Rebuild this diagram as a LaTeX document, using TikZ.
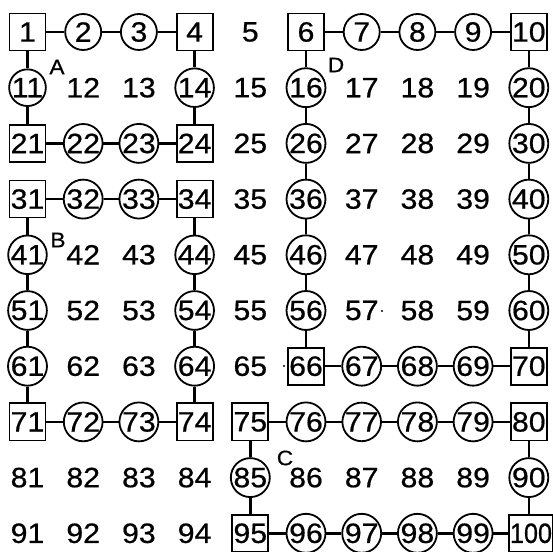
\documentclass[tikz,border=0pt]{standalone}
\usepackage{fontspec}
\setmainfont{Liberation Sans}[FakeStretch=1.08,FakeBold=0.6]
\newfontfamily\narrowfont{Liberation Sans}[FakeStretch=0.9,FakeBold=0.6]
\tikzset{
  numbase/.style={inner sep=0pt, font=\fontsize{28}{28}\selectfont},
  numbox/.style={numbase, draw, line width=1.8pt, minimum width=36pt, minimum height=37pt, inner xsep=1pt},
  numcirc/.style={numbase, draw, circle, line width=1.8pt, minimum size=36pt},
  numplain/.style={numbase},
  link/.style={line width=2.4pt},
  letter/.style={font=\fontsize{21}{21}\selectfont, inner sep=0pt}
}
\begin{document}
\begin{tikzpicture}[x=1pt,y=1pt]
\useasboundingbox (0,0) rectangle (553,551);
\foreach \n/\s in {
 1/numbox,2/numcirc,3/numcirc,4/numbox,5/numplain,6/numbox,7/numcirc,8/numcirc,9/numcirc,10/numbox,
 11/numcirc,12/numplain,13/numplain,14/numcirc,15/numplain,16/numcirc,17/numplain,18/numplain,19/numplain,20/numcirc,
 21/numbox,22/numcirc,23/numcirc,24/numbox,25/numplain,26/numcirc,27/numplain,28/numplain,29/numplain,30/numcirc,
 31/numbox,32/numcirc,33/numcirc,34/numbox,35/numplain,36/numcirc,37/numplain,38/numplain,39/numplain,40/numcirc,
 41/numcirc,42/numplain,43/numplain,44/numcirc,45/numplain,46/numcirc,47/numplain,48/numplain,49/numplain,50/numcirc,
 51/numcirc,52/numplain,53/numplain,54/numcirc,55/numplain,56/numcirc,57/numplain,58/numplain,59/numplain,60/numcirc,
 61/numcirc,62/numplain,63/numplain,64/numcirc,65/numplain,66/numbox,67/numcirc,68/numcirc,69/numcirc,70/numbox,
 71/numbox,72/numcirc,73/numcirc,74/numbox,75/numbox,76/numcirc,77/numcirc,78/numcirc,79/numcirc,80/numbox,
 81/numplain,82/numplain,83/numplain,84/numplain,85/numcirc,86/numplain,87/numplain,88/numplain,89/numplain,90/numcirc,
 91/numplain,92/numplain,93/numplain,94/numplain,95/numbox,96/numcirc,97/numcirc,98/numcirc,99/numcirc}
{
  \pgfmathtruncatemacro\col{mod(\n-1,10)}
  \pgfmathtruncatemacro\row{(\n-1)/10}
  \node[\s] (n\n) at ({27.5+\col*55.7},{551-32-\row*55.7}) {\n};
}
\node[numbox, minimum width=42pt] (n100) at (531,{551-32-9*55.7}) {\narrowfont 100};
% labels
\node[letter] (lA) at (57,484) {A};
\node[letter] (lD) at (336,486) {D};
\node[letter] (lB) at (58,311) {B};
\node[letter] (lC) at (285,93) {C};
% stray dots
\fill (382,240) circle (1.1pt);
\fill (284,185) circle (1.1pt);
% horizontal links
\foreach \a/\b in {1/2,2/3,3/4,6/7,7/8,8/9,9/10,21/22,22/23,23/24,31/32,32/33,33/34,
  66/67,67/68,68/69,69/70,71/72,72/73,73/74,75/76,76/77,77/78,78/79,79/80,
  95/96,96/97,97/98,98/99,99/100}
  \draw[link] (n\a) -- (n\b);
% vertical links
\foreach \a/\b in {1/11,11/21,4/14,14/24,6/16,16/26,26/36,36/46,46/56,56/66,
  10/20,20/30,30/40,40/50,50/60,60/70,31/41,41/51,51/61,61/71,34/44,44/54,54/64,64/74,
  75/85,85/95,80/90}
  \draw[link] (n\a) -- (n\b);
\draw[link] (n90.south) -- (n90.south |- n100.north);
\end{tikzpicture}
\end{document}
